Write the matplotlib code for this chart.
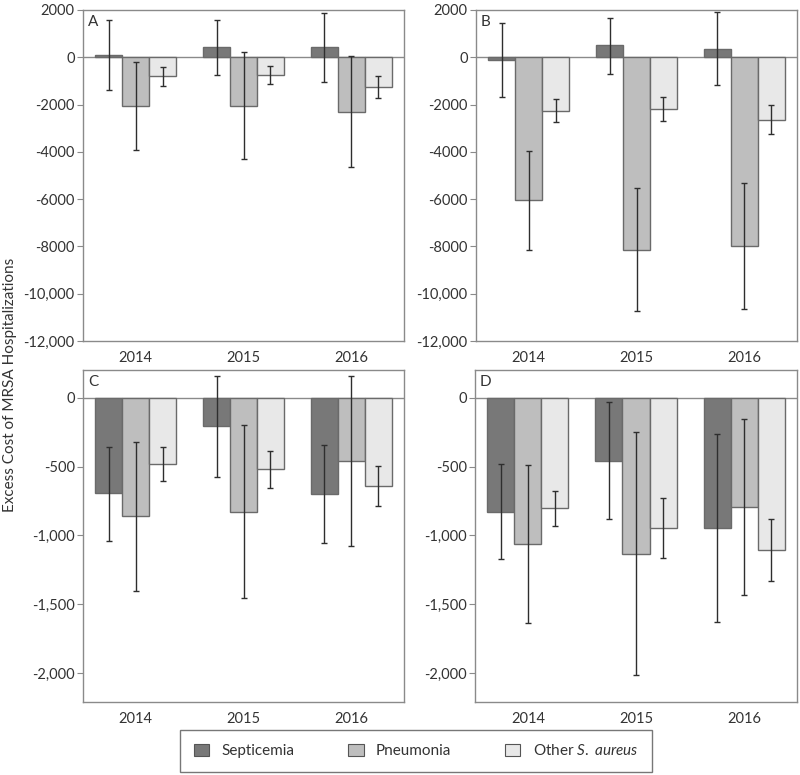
import numpy as np
import matplotlib
matplotlib.use("Agg")
import matplotlib.pyplot as plt
from matplotlib.patches import Patch

plt.rcParams['font.family'] = ['Lato', 'DejaVu Sans']
plt.rcParams['mathtext.fontset'] = 'custom'
plt.rcParams['mathtext.rm'] = 'Lato'
plt.rcParams['mathtext.it'] = 'Lato:italic'

years = ["2014", "2015", "2016"]
series = ["Septicemia", "Pneumonia", "Other S. aureus"]
legend_labels = ["Septicemia", "Pneumonia", r"Other $\mathit{S.\ aureus}$"]
colors = ["#787878", "#bebebe", "#e8e8e8"]

# panel A: mean, lower CI, upper CI for each series (rows) by year (cols)
a_mean = [[90, 420, 434], [-2065, -2045, -2300], [-812, -742, -1246]]
a_low = [[-1400, -756, -1036], [-3920, -4300, -4620], [-1204, -1120, -1722]]
a_high = [[1580, 1580, 1890], [-196, 224, 42], [-420, -350, -784]]

# panel B
b_mean = [[-98, 504, 364], [-6050, -8140, -7980], [-2254, -2184, -2646]]
b_low = [[-1666, -686, -1176], [-8170, -10740, -10640], [-2744, -2688, -3234]]
b_high = [[1442, 1652, 1904], [-3970, -5540, -5320], [-1778, -1680, -2016]]

# panel C
c_mean = [[-695, -207, -700], [-861, -827, -461], [-480, -520, -644]]
c_low = [[-1039, -573, -1056], [-1402, -1456, -1073], [-605, -654, -788]]
c_high = [[-359, 159, -344], [-322, -200, 154], [-356, -385, -498]]

# panel D
d_mean = [[-829, -458, -945], [-1062, -1132, -797], [-802, -948, -1105]]
d_low = [[-1168, -882, -1626], [-1634, -2010, -1435], [-931, -1164, -1333]]
d_high = [[-485, -34, -262], [-492, -252, -158], [-674, -732, -882]]

big_ticks = [2000, 0, -2000, -4000, -6000, -8000, -10000, -12000]
big_labels = ["2000", "0", "-2000", "-4000", "-6000", "-8000", "-10,000", "-12,000"]
small_ticks = [0, -500, -1000, -1500, -2000]
small_labels = ["0", "-500", "-1,000", "-1,500", "-2,000"]

W, H = 800, 775
fig = plt.figure(figsize=(8, 7.75), dpi=100)


def px_axes(x0, y0, x1, y1):
    return fig.add_axes([x0 / W, 1 - y1 / H, (x1 - x0) / W, (y1 - y0) / H])


def draw_panel(ax, letter, mean, low, high, ticks, labels, ylim):
    x = np.arange(len(years))
    bw = 0.25
    for i in range(3):
        m = np.array(mean[i])
        err = [m - np.array(low[i]), np.array(high[i]) - m]
        ax.bar(x + (i - 1) * bw, m, bw, color=colors[i], edgecolor="#6a6a6a",
               linewidth=1.0, zorder=2)
        ax.errorbar(x + (i - 1) * bw, m, yerr=err, fmt="none", ecolor="#2e2e2e",
                    elinewidth=1.0, capsize=2.2, capthick=1.0, zorder=3)
    ax.axhline(0, color="#8a8a8a", linewidth=1.0, zorder=1)
    ax.set_xlim(-0.49, 2.49)
    ax.set_ylim(*ylim)
    ax.set_xticks(x)
    ax.set_xticklabels(years, fontsize=10.5, color="#333333")
    ax.set_yticks(ticks)
    ax.set_yticklabels(labels, fontsize=10.5, color="#333333")
    ax.tick_params(axis="x", length=0, pad=7)
    ax.tick_params(axis="y", length=4, color="#8a8a8a", pad=2)
    for s in ax.spines.values():
        s.set_color("#8a8a8a")
        s.set_linewidth(1.0)
    ax.text(0.015, 0.985, letter, transform=ax.transAxes, ha="left", va="top",
            fontsize=11, color="#333333")


axA = px_axes(83, 10, 404, 341)
draw_panel(axA, "A", a_mean, a_low, a_high, big_ticks, big_labels, (-12000, 2000))
axB = px_axes(476, 10, 797, 341)
draw_panel(axB, "B", b_mean, b_low, b_high, big_ticks, big_labels, (-12000, 2000))
axC = px_axes(83, 370, 404, 702)
draw_panel(axC, "C", c_mean, c_low, c_high, small_ticks, small_labels, (-2208, 200))
axD = px_axes(475, 370, 797, 702)
draw_panel(axD, "D", d_mean, d_low, d_high, small_ticks, small_labels, (-2208, 200))

fig.text(10 / W, 1 - 385 / H, "Excess Cost of MRSA Hospitalizations", rotation=90,
         ha="center", va="center", fontsize=11, color="#333333")

handles = [Patch(facecolor=colors[i], edgecolor="#555555", linewidth=0.8) for i in range(3)]
leg = fig.legend(handles, legend_labels, loc="lower left", ncol=3, mode="expand",
                 bbox_to_anchor=(180 / W, 1 - 772 / H, 472 / W, 41 / H),
                 frameon=True, fancybox=False, edgecolor="#555555", fontsize=11,
                 handlelength=1.0, handleheight=0.9, handletextpad=0.8,
                 borderaxespad=0, borderpad=0.9)
leg.get_frame().set_linewidth(1.0)
for t in leg.get_texts():
    t.set_color("#333333")

fig.savefig("out.png", dpi=100)
